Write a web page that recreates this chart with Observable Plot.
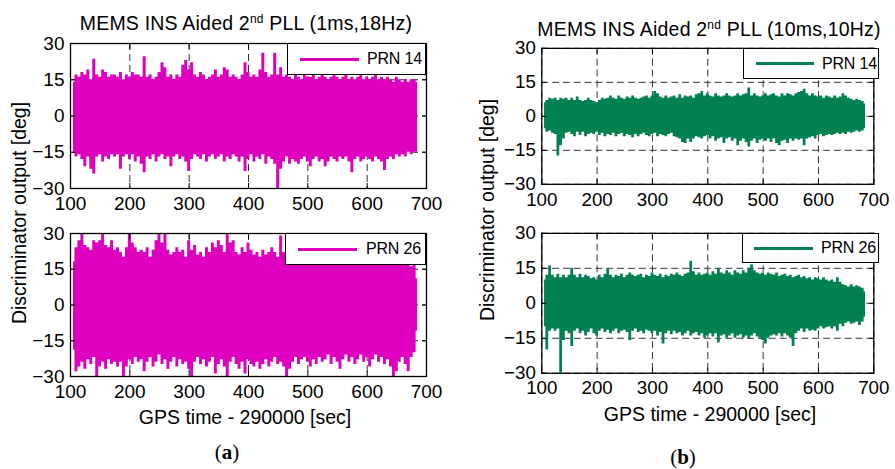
<!DOCTYPE html>
<html>
<head>
<meta charset="utf-8">
<script src="https://cdn.jsdelivr.net/npm/d3@7"></script>
<script src="https://cdn.jsdelivr.net/npm/@observablehq/plot@0.6"></script>
<style>
  html, body { margin: 0; padding: 0; background: #fff; }
  #root { position: relative; width: 895px; height: 469px; overflow: hidden; background: #fff;
          font-family: "Liberation Sans", Arial, sans-serif; color: #000; }
  .abs { position: absolute; white-space: nowrap; }
  .title { font-size: 19.5px; line-height: 20px; letter-spacing: 0.2px; transform: translateX(-50%); }
  .title sup { font-size: 12px; vertical-align: 7px; line-height: 0; }
  .xlab { font-size: 19.5px; line-height: 20px; transform: translateX(-50%); }
  .ylab { font-size: 19.5px; line-height: 20px; transform: translate(-50%, -50%) rotate(-90deg); }
  .cap { font-family: "Liberation Serif", "DejaVu Serif", serif; font-size: 21px; line-height: 22px; transform: translateX(-50%); }
  .legend { background: #fff; border: 1px solid #000; box-sizing: border-box; }
  .legend .ln { position: absolute; height: 3px; }
  .legend .tx { position: absolute; font-size: 16px; line-height: 16px; letter-spacing: -0.2px; }
  .plotbox { position: absolute; }
</style>
</head>
<body>
<div id="root"></div>
<script>
// ---------------- data ----------------
// Envelope of the discriminator output, one max/min pair per 5-second bin (t = 105 ... 685 s)
const tFirst = 105, tLast = 685, tStep = 5;
const xTicks = [100, 200, 300, 400, 500, 600, 700];
const yTicks = [-30, -15, 0, 15, 30];

const a1Upper = [14,17,16,18,17,19,15,23.5,17,16, 19,18,16,17,17,16,18,15,17,16,
  18,17,17,16,24.5,16,17,15,16,18, 22,20,16,17,15,17,16,21,23,19,
  22,17,16,18,17,15,16,17,19,16, 17,20,19,16,17,16,15,17,22,18,
  16,17,16,19,26,18,16,17,26,17, 20,16,17,16,15,17,16,15,17,16,
  16,17,15,16,17,16,15,16,17,16, 15,16,17,15,16,15,16,17,15,16,
  15,16,17,15,16,15,16,15,14,16, 15,14,15,14,15,15,14];
const a1Lower = [-15,-17,-16,-18,-21,-17,-22,-24,-17,-16, -19,-17,-18,-16,-17,-16,-22,-17,-16,-18,
  -16,-19,-17,-20,-23.5,-17,-18,-16,-19,-17, -16,-18,-17,-21,-17,-16,-18,-17,-19,-23,
  -18,-16,-17,-18,-16,-19,-17,-16,-18,-17, -16,-19,-17,-18,-16,-17,-19,-17,-23,-18,
  -16,-19,-17,-18,-16,-20,-17,-18,-20,-31, -22,-19,-17,-20,-18,-19,-20,-18,-17,-19,
  -21,-18,-17,-19,-18,-21,-19,-17,-18,-19, -17,-18,-17,-19,-23.5,-18,-17,-19,-18,-17,
  -18,-19,-17,-18,-19,-22.5,-18,-17,-18,-16, -17,-16,-17,-15,-16,-15,-15];

const a2Upper = [18,24,27,30,25,24,23,27,26,27, 30,25,24,27,23,24,22,20,24,30,
  26,24,22,23,22,24,20,23,27,30, 26,30,23,21,22,24,22,23,20,27,
  23,25,21,22,20,24,22,26,24,27, 25,22,30,26,27,22,21,24,22,26,
  23,21,22,20,23,21,22,24,22,20, 29,22,21,20,19,21,20,19,20,21,
  19,20,19,21,20,19,20,19,20,18, 20,19,18,20,19,18,19,18,20,18,
  19,18,19,18,17,18,19,17,18,17, 18,17,18,17,16,17,11];
const a2Lower = [-19,-28,-26,-24,-27,-23,-25,-22,-30,-26, -24,-27,-23,-25,-24,-26,-24,-30,-26,-23,
  -25,-22,-24,-23,-28,-24,-22,-26,-24,-21, -25,-23,-27,-24,-22,-26,-23,-25,-24,-27,
  -30,-24,-22,-25,-23,-26,-24,-22,-29,-25, -23,-26,-30,-24,-22,-25,-27,-24,-29,-23,
  -25,-26,-24,-27,-25,-23,-26,-24,-22,-25, -24,-26,-30,-27,-24,-22,-25,-23,-22,-24,
  -26,-23,-25,-22,-24,-23,-21,-25,-22,-24, -27,-23,-21,-24,-22,-25,-23,-21,-24,-22,
  -26,-23,-21,-24,-22,-25,-23,-26,-30,-28, -24,-22,-25,-28,-22,-20,-11];

const b1Upper = [6,7,8,7.5,8,7,8,7.5,8,7, 8,7,8.5,7,6.5,7,8,7,6.5,6,
  7,8,7.5,8,9,8,7.5,9,8,7.5, 8.5,8,9,8,7.5,8,8.5,9,8,9,
  11,10,8.5,8,9,8,8.5,9,8,9.5, 8,9,8.5,9,8,9.5,10,11,9,10,
  9,8.5,10,9,8.5,9,10,9,8.5,9, 10,9,9.5,10,12.5,9,10,9,8.5,9,
  10,9,9.5,10,9,8.5,10,9,10,9.5, 9,10,10.5,11,12,10,9,10,9,8.5,
  9,8,9,8.5,8,9,8,8.5,10,9, 8,7.5,7,7.5,7,6.5,5.5];
const b1Lower = [-5.5,-7,-6.5,-7.5,-8,-17.5,-13,-10,-7.5,-7, -8,-9,-7,-8.5,-7,-9,-8,-7.5,-8,-7,
  -8.5,-7.5,-9,-8,-8.5,-7.5,-9,-8,-7.5,-9, -8,-8.5,-9.5,-8,-9,-8,-7.5,-8.5,-9,-8,
  -7.5,-9,-8,-8.5,-9,-8,-7.5,-9,-9.5,-10, -11.5,-12,-10,-11.5,-10,-9,-9.5,-10,-9,-8.5,
  -10,-9,-11,-10,-9.5,-12,-10,-9.5,-11,-10, -13,-11,-10,-11.5,-13.5,-11,-10,-12,-10.5,-10,
  -11,-10,-11.5,-10,-12,-13,-11,-10.5,-12,-10, -11,-10,-10.5,-10,-13,-10,-9.5,-9,-10,-8.5,
  -8,-9,-8.5,-8,-8.5,-8,-7.5,-8,-7.5,-8, -7,-7.5,-7,-6.5,-7,-6.5,-5.5];

const b2Upper = [10,12,16,12,11,12.5,11,12,11,12, 15,12,11,12.5,11,12,11.5,10.5,11,10,
  12,11,12.5,14.5,12,11,12,11.5,12.5,11, 12,13,12,11.5,12,12.5,11,12,11.5,13,
  12,11.5,12.5,11,12,11.5,12.5,12,13,12, 11.5,12.5,13,18,13.5,12,13,12,12.5,13,
  12,13.5,12.5,15,13,12.5,14,13,12,14, 13,12.5,14,13,15,16.5,14,13,12.5,13,
  12,13,12.5,12,13,11.5,12,12.5,11.5,12, 11,11.5,12,11,11.5,10.5,11,10,11,10.5,
  10,11,10,9.5,10,9,11,9,8,7.5, 7,8,7,7.5,7,6.5,5];
const b2Lower = [-10,-20,-12,-11,-12,-11,-30,-16,-12,-13, -18.5,-12,-11,-13,-12,-14,-12.5,-11,-13,-14,
  -12,-11,-12.5,-11.5,-13,-12,-11,-13,-12,-11.5, -12.5,-16,-12,-11,-12.5,-12,-13,-11.5,-12,-13,
  -12,-14,-12.5,-17.5,-13,-12,-13.5,-12,-13,-12.5, -14,-13,-12,-14,-13,-12.5,-14,-13,-15,-14,
  -13,-14.5,-13,-17,-14,-13.5,-15,-14,-13,-15, -14,-13.5,-15,-14,-15.5,-14,-13,-14.5,-15,-16,
  -17.5,-15,-14,-13.5,-14,-13,-14.5,-13,-14,-15, -18.5,-13,-12,-11,-12.5,-11,-12,-11.5,-12,-11,
  -10,-11,-10.5,-10,-11,-10,-12,-9,-10,-8.5, -8,-9,-8.5,-8,-9.5,-8,-6];

const magenta = "#DE00BE";
const green = "#008152";

// ---------------- drawing ----------------
const root = document.getElementById("root");
const times = d3.range(tFirst, tLast + 1, tStep);

function add(html, cls, left, top) {
  const d = document.createElement("div");
  d.className = "abs " + cls;
  d.style.left = left + "px";
  d.style.top = top + "px";
  d.innerHTML = html;
  root.appendChild(d);
  return d;
}

function panel(upper, lower, color, box, legendText, leg) {
  const rows = times.map((t, i) => ({t, hi: upper[i], lo: lower[i]}));
  const mL = 50, mR = 22, mT = 10, mB = 32;
  const W = box.x1 - box.x0, H = box.y1 - box.y0;
  const chart = Plot.plot({
    width: W + mL + mR,
    height: H + mT + mB,
    marginLeft: mL, marginRight: mR, marginTop: mT, marginBottom: mB,
    style: {background: "transparent", overflow: "visible", fontFamily: "'Liberation Sans', Arial, sans-serif", fontSize: "19px", color: "#000"},
    x: {domain: [100, 700]},
    y: {domain: [-30, 30]},
    marks: [
      Plot.gridX(xTicks, {stroke: "#333", strokeOpacity: 1, strokeWidth: 1, strokeDasharray: "7,4"}),
      Plot.gridY(yTicks, {stroke: "#333", strokeOpacity: 1, strokeWidth: 1, strokeDasharray: "7,4"}),
      Plot.areaY(rows, {x: "t", y1: "lo", y2: "hi", fill: color, curve: "step", clip: true}),
      Plot.frame({stroke: "#000", strokeWidth: 1.3}),
      Plot.axisX(xTicks, {anchor: "bottom", tickSize: -5, tickPadding: 13, label: null}),
      Plot.axisX(xTicks, {anchor: "top", tickSize: -5, tickFormat: () => "", label: null}),
      Plot.axisY(yTicks, {anchor: "left", tickSize: -5, tickPadding: 11, label: null}),
      Plot.axisY(yTicks, {anchor: "right", tickSize: -5, tickFormat: () => "", label: null})
    ]
  });
  const holder = document.createElement("div");
  holder.className = "plotbox";
  holder.style.left = (box.x0 - mL) + "px";
  holder.style.top = (box.y0 - mT) + "px";
  holder.appendChild(chart);
  root.appendChild(holder);

  // legend box
  const lg = document.createElement("div");
  lg.className = "abs legend";
  lg.style.left = leg.x0 + "px";
  lg.style.top = box.y0 + "px";
  lg.style.width = (box.x1 - leg.x0) + "px";
  lg.style.height = leg.h + "px";
  const ln = document.createElement("div");
  ln.className = "ln";
  ln.style.background = color;
  ln.style.left = (leg.lx0 - leg.x0) + "px";
  ln.style.width = (leg.lx1 - leg.lx0) + "px";
  ln.style.top = (leg.h / 2 - 2.5) + "px";
  lg.appendChild(ln);
  const tx = document.createElement("div");
  tx.className = "tx";
  tx.style.left = (leg.tx - leg.x0) + "px";
  tx.style.top = (leg.h / 2 - 9) + "px";
  tx.textContent = legendText;
  lg.appendChild(tx);
  root.appendChild(lg);
}

panel(a1Upper, a1Lower, magenta, {x0: 70, x1: 426, y0: 43, y1: 188}, "PRN 14", {x0: 287, h: 32, lx0: 299, lx1: 358, tx: 366});
panel(a2Upper, a2Lower, magenta, {x0: 70, x1: 426, y0: 233, y1: 376}, "PRN 26", {x0: 285, h: 32, lx0: 297, lx1: 356, tx: 365});
panel(b1Upper, b1Lower, green, {x0: 542, x1: 879, y0: 48, y1: 186}, "PRN 14", {x0: 743, h: 31, lx0: 755, lx1: 813, tx: 821});
panel(b2Upper, b2Lower, green, {x0: 542, x1: 879, y0: 233, y1: 375}, "PRN 26", {x0: 742, h: 30, lx0: 753, lx1: 812, tx: 820});

// titles, axis labels, captions
add("MEMS INS Aided 2<sup>nd</sup> PLL (1ms,18Hz)", "title", 246, 13);
add("MEMS INS Aided 2<sup>nd</sup> PLL (10ms,10Hz)", "title", 709, 19);
add("GPS time - 290000 [sec]", "xlab", 245, 407);
add("GPS time - 290000 [sec]", "xlab", 710, 404);
add("Discriminator output [deg]", "ylab", 19, 213);
add("Discriminator output [deg]", "ylab", 487, 210);
add("(<b>a</b>)", "cap", 227, 441);
add("(<b>b</b>)", "cap", 683, 446);
</script>
</body>
</html>
